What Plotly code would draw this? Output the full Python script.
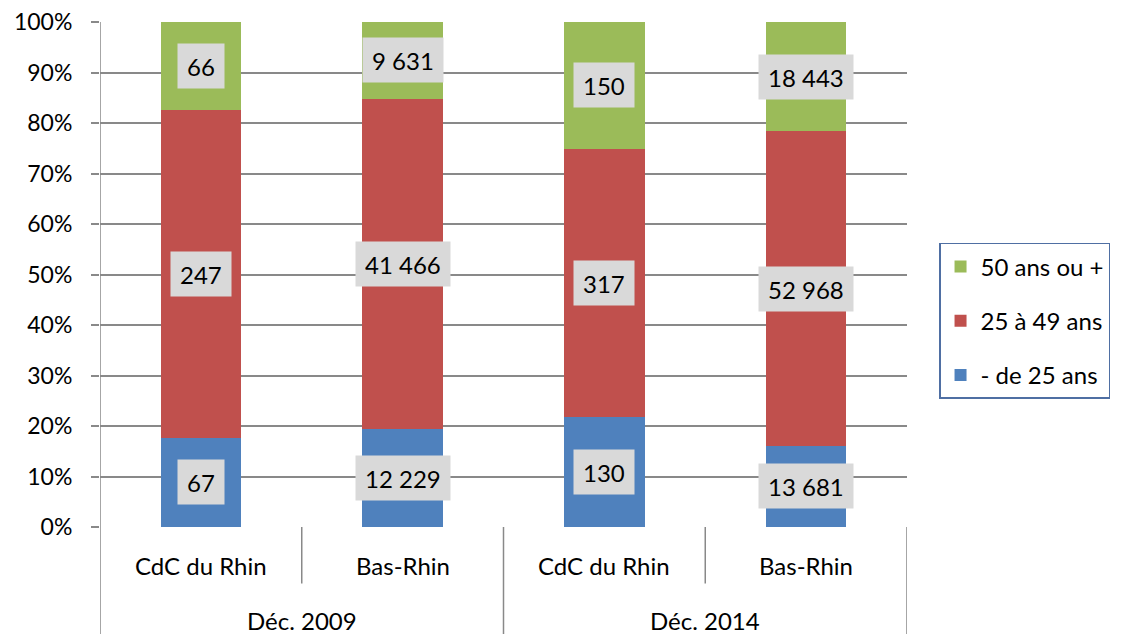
import plotly.graph_objects as go

# ---- data ----
groups = ["Déc. 2009", "Déc. 2009", "Déc. 2014", "Déc. 2014"]
territories = ["CdC du Rhin", "Bas-Rhin", "CdC du Rhin", "Bas-Rhin"]
moins_25 = [67, 12229, 130, 13681]
de_25_49 = [247, 41466, 317, 52968]
plus_50 = [66, 9631, 150, 18443]
series_names = ["- de 25 ans", "25 à 49 ans", "50 ans ou +"]
series_values = [moins_25, de_25_49, plus_50]
series_colors = ["#4F81BD", "#C0504D", "#9BBB59"]
y_ticks = [0, 10, 20, 30, 40, 50, 60, 70, 80, 90, 100]
y_tick_labels = [f"{t}%" for t in y_ticks]

FONT = "Lato"
FS = 24
GRID = "#898989"

x_pos = list(range(len(territories)))

fig = go.Figure()
n = len(series_names)
for k, (name, vals, col) in enumerate(zip(series_names, series_values, series_colors)):
    fig.add_trace(go.Bar(
        x=x_pos, y=vals, name=name, width=0.4,
        marker=dict(color=col, line=dict(width=0)),
        legendgroup=name, legendrank=n - k,
    ))

# data labels centred in each segment
totals = [sum(s[i] for s in series_values) for i in x_pos]
annotations = []
for i in x_pos:
    cum = 0.0
    for vals in series_values:
        pct = vals[i] / totals[i] * 100
        mid = cum + pct / 2
        cum += pct
        annotations.append(dict(
            x=i, y=mid, xref="x", yref="y",
            text=f"{vals[i]:,}".replace(",", " "),
            showarrow=False, bgcolor="#D9D9D9", borderpad=9, height=26,
            font=dict(family=FONT, size=FS, color="black"),
        ))

# category labels (two levels)
for i in x_pos:
    annotations.append(dict(
        x=i, y=-0.077, xref="x", yref="paper", text=territories[i],
        showarrow=False, yanchor="middle",
        font=dict(family=FONT, size=FS, color="black"),
    ))
seen = []
for i, g in enumerate(groups):
    if g in seen:
        continue
    seen.append(g)
    idx = [j for j, gg in enumerate(groups) if gg == g]
    annotations.append(dict(
        x=sum(idx) / len(idx), y=-0.186, xref="x", yref="paper", text=g,
        showarrow=False, yanchor="middle",
        font=dict(family=FONT, size=FS, color="black"),
    ))

shapes = []
bottom = -0.215
# full-height left axis line
shapes.append(dict(type="line", xref="x", yref="paper", x0=-0.5, x1=-0.5,
                   y0=1, y1=bottom, line=dict(color=GRID, width=1.5)))
for xb in [1.5, 3.5]:
    shapes.append(dict(type="line", xref="x", yref="paper", x0=xb, x1=xb,
                       y0=0, y1=bottom, line=dict(color=GRID, width=1.5)))
for xb in [0.5, 2.5]:
    shapes.append(dict(type="line", xref="x", yref="paper", x0=xb, x1=xb,
                       y0=0, y1=-0.112, line=dict(color=GRID, width=1.5)))

# page body has an 8px margin: figure is sized/offset to compensate
fig.update_layout(
    barmode="stack", barnorm="percent",
    width=1120, height=626,
    margin=dict(l=92, r=221, t=14, b=107, autoexpand=False),
    paper_bgcolor="white", plot_bgcolor="white",
    font=dict(family=FONT, size=FS, color="black"),
    xaxis=dict(range=[-0.5, 3.5], showticklabels=False, showgrid=False,
               zeroline=False, showline=False, ticks="", automargin=False),
    yaxis=dict(range=[0, 100], tickvals=y_ticks, ticktext=y_tick_labels,
               showgrid=True, gridcolor=GRID, gridwidth=1.5,
               zeroline=False, showline=False, automargin=False,
               ticks="outside", ticklen=8, tickcolor=GRID, tickwidth=1.5,
               ticklabelstandoff=14, ticklabeloverflow="allow",
               tickfont=dict(family=FONT, size=23, color="black")),
    legend=dict(x=1.0397, y=0.5624, xanchor="left", yanchor="top",
                traceorder="grouped", tracegroupgap=20,
                bordercolor="#4F6FA3", borderwidth=1.5,
                font=dict(family=FONT, size=FS, color="black"),
                bgcolor="white"),
    annotations=annotations,
    shapes=shapes,
    showlegend=True,
)

fig.write_html("out.html")
